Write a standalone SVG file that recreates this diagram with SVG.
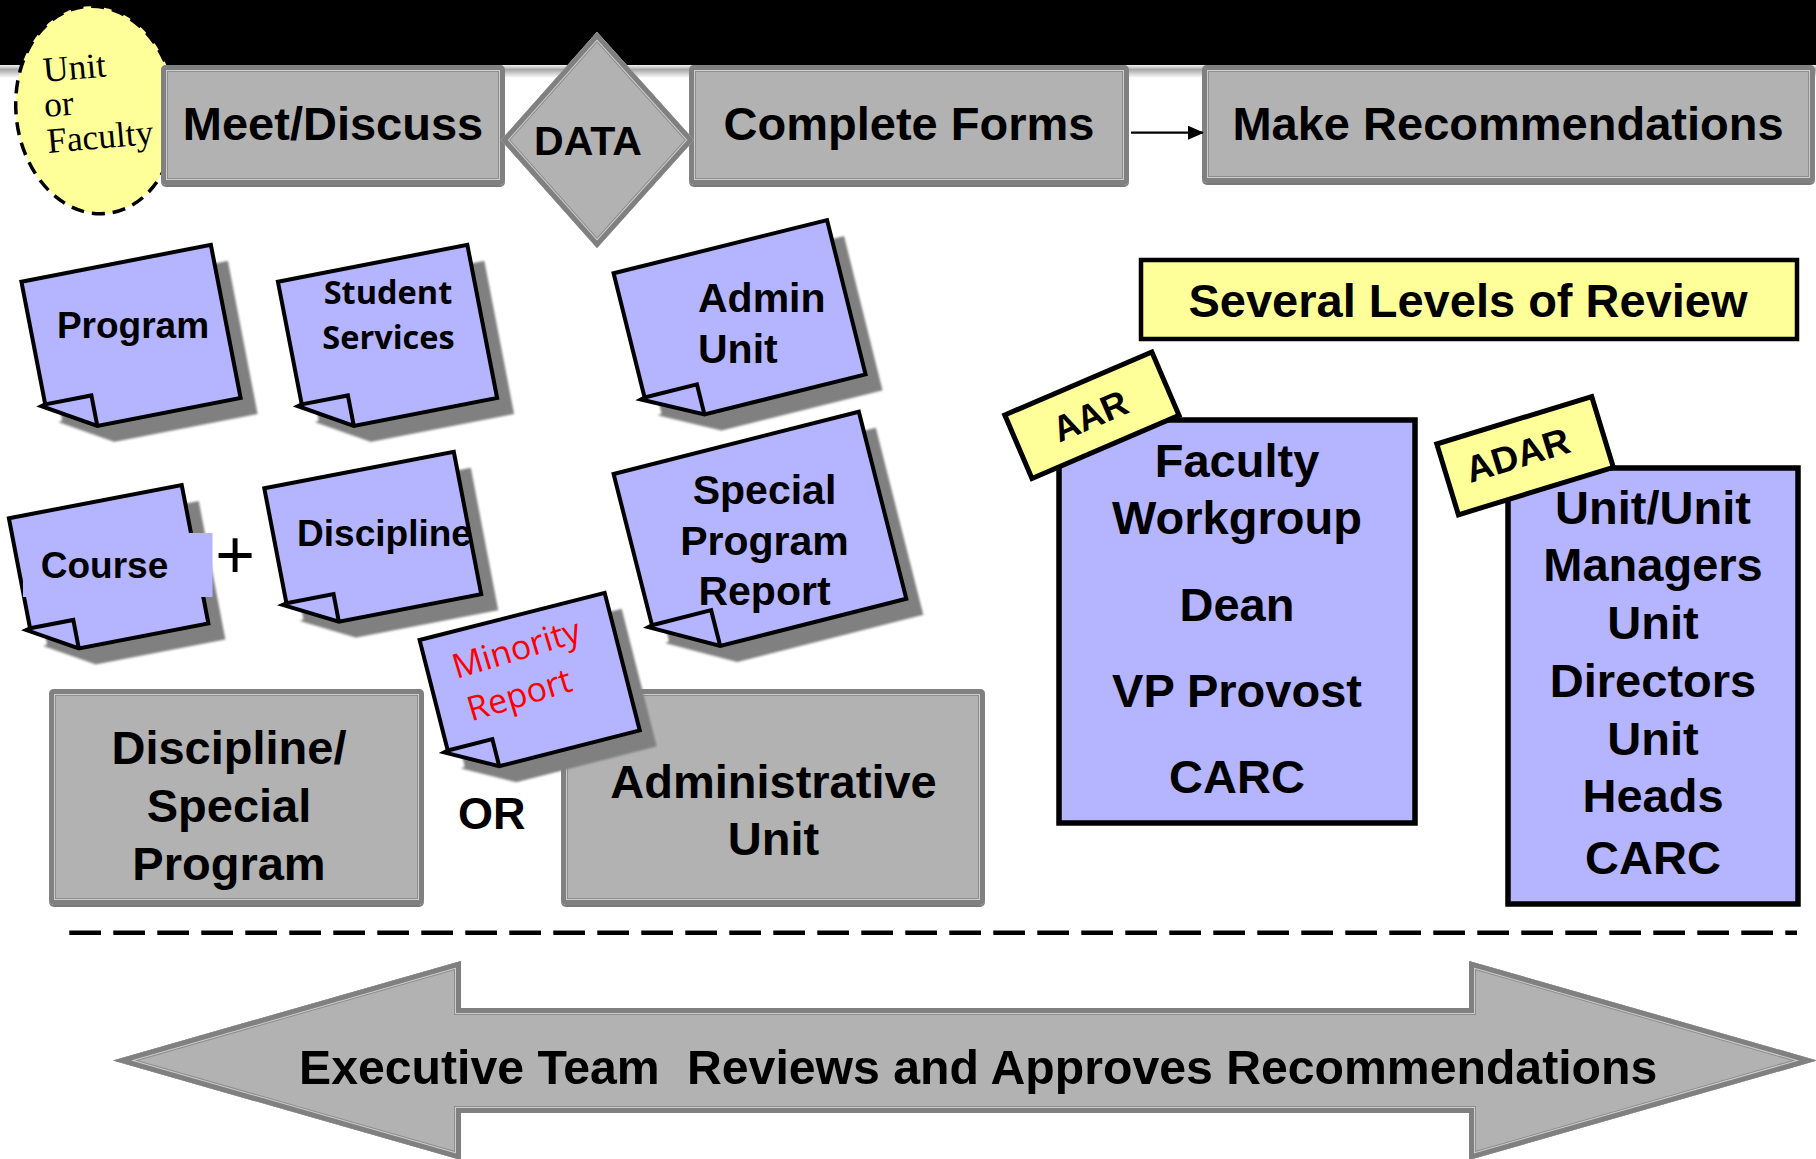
<svg xmlns="http://www.w3.org/2000/svg" xmlns:xlink="http://www.w3.org/1999/xlink" width="1816" height="1159" viewBox="0 0 1816 1159">
  <style>
    .t{font-family:"Liberation Sans",Arial,sans-serif;font-weight:bold;fill:#000}
    .c{text-anchor:middle}
    .s47{font-size:47px}
    .hand{font-family:"Open Sans","Noto Sans",sans-serif}
    .serif{font-family:"Liberation Serif","Times New Roman",serif;font-size:35.5px;fill:#000}
    .gfill{fill:#b2b2b2}
    .gdrop{fill:#7a7a7a}
    .b3{fill:none;stroke:#8e8e8e;stroke-width:14}
    .b2{fill:none;stroke:#cdcdcd;stroke-width:12}
    .b1{fill:none;stroke:#808080;stroke-width:10}
    .paper{fill:#b4b4ff;stroke:#000;stroke-width:4}
    .fold{fill:none;stroke:#000;stroke-width:4}
    .shadow{fill:#808080;filter:url(#soft)}
    .lav{fill:#b4b4ff}
    .panel{fill:#b4b4ff;stroke:#000;stroke-width:5.5}
    .tag{fill:#ffff99;stroke:#000;stroke-width:5}
  </style>
  <defs>
    <linearGradient id="rule" x1="0" y1="0" x2="0" y2="1">
      <stop offset="0" stop-color="#f2f2f2"/>
      <stop offset="0.35" stop-color="#a8a8a8"/>
      <stop offset="1" stop-color="#ffffff"/>
    </linearGradient>
    <filter id="soft" x="-10%" y="-10%" width="120%" height="120%">
      <feGaussianBlur stdDeviation="1.3"/>
    </filter>
    <marker id="arrowhead" markerUnits="userSpaceOnUse" markerWidth="16" markerHeight="14" viewBox="0 0 16 14" refX="15" refY="7" orient="auto">
      <path d="M0,0 L16,7 L0,14 Z" fill="#000"/>
    </marker>

    <!-- grey step shapes -->
    <rect id="box-meet" x="161" y="65" width="344" height="120" rx="5"/>
    <rect id="box-forms" x="689" y="65" width="440" height="120" rx="5"/>
    <rect id="box-recs" x="1202" y="65" width="613" height="118" rx="5"/>
    <polygon id="shape-data" points="501,140 597,32 694,140 597,248"/>
    <rect id="box-disc" x="49" y="689" width="375" height="216" rx="5"/>
    <rect id="box-admin" x="561" y="689" width="424" height="216" rx="5"/>
    <polygon id="shape-exec" points="113,1060.5 461,961 461,1008 1469,1008 1469,961 1817,1060.5 1469,1160 1469,1113 461,1113 461,1160"/>

    <clipPath id="clip-meet"><use xlink:href="#box-meet"/></clipPath>
    <clipPath id="clip-forms"><use xlink:href="#box-forms"/></clipPath>
    <clipPath id="clip-recs"><use xlink:href="#box-recs"/></clipPath>
    <clipPath id="clip-data"><use xlink:href="#shape-data"/></clipPath>
    <clipPath id="clip-disc"><use xlink:href="#box-disc"/></clipPath>
    <clipPath id="clip-admin"><use xlink:href="#box-admin"/></clipPath>
    <clipPath id="clip-exec"><use xlink:href="#shape-exec"/></clipPath>

    <!-- sticky note outlines, local coordinates, folded lower-left corner -->
    <path id="np-program" d="M0,0 H193 V156 H47 L-4,126 L0,125 Z"/>
    <path id="nf-program" d="M0,125 H47 V156"/>
    <path id="np-course" d="M0,0 H176 V141 H44 L-4,113 L0,112 Z"/>
    <path id="nf-course" d="M0,112 H44 V141"/>
    <path id="np-discipline" d="M0,0 H193 V145 H48 L-4,118 L0,117 Z"/>
    <path id="nf-discipline" d="M0,117 H48 V145"/>
    <path id="np-admin" d="M0,0 H220 V159 H54 L-4,129 L0,128 Z"/>
    <path id="nf-admin" d="M0,128 H54 V159"/>
    <path id="np-special" d="M0,0 H253 V193 H61 L-4,157 L0,156 Z"/>
    <path id="nf-special" d="M0,156 H61 V193"/>
    <path id="np-minority" d="M0,0 H191 V142 H46 L-4,115 L0,114 Z"/>
    <path id="nf-minority" d="M0,114 H46 V142"/>
  </defs>

  <rect x="0" y="0" width="1816" height="1159" fill="#fff"/>

  <!-- header band -->
  <g id="header">
    <rect x="0" y="0" width="1816" height="65" fill="#000"/>
    <rect x="0" y="65" width="1816" height="13" fill="url(#rule)"/>
  </g>

  <!-- who meets -->
  <g id="unit-or-faculty">
    <ellipse cx="96" cy="110" rx="80" ry="104" transform="rotate(-6 96 110)" fill="#ffff99" stroke="#000" stroke-width="3.5" stroke-dasharray="13 8"/>
    <text class="serif" x="44" y="82" transform="rotate(-5 44 82)">Unit</text>
    <text class="serif" x="45" y="117" transform="rotate(-5 45 117)">or</text>
    <text class="serif" x="48" y="153" transform="rotate(-5 48 153)">Faculty</text>
  </g>

  <!-- process steps -->
  <g id="meet-discuss">
    <use xlink:href="#box-meet" class="gdrop" transform="translate(0,2)"/>
    <use xlink:href="#box-meet" class="gfill"/>
    <g clip-path="url(#clip-meet)">
      <use xlink:href="#box-meet" class="b3"/><use xlink:href="#box-meet" class="b2"/><use xlink:href="#box-meet" class="b1"/>
    </g>
    <text class="t c s47" x="333" y="140">Meet/Discuss</text>
  </g>

  <g id="complete-forms">
    <use xlink:href="#box-forms" class="gdrop" transform="translate(0,2)"/>
    <use xlink:href="#box-forms" class="gfill"/>
    <g clip-path="url(#clip-forms)">
      <use xlink:href="#box-forms" class="b3"/><use xlink:href="#box-forms" class="b2"/><use xlink:href="#box-forms" class="b1"/>
    </g>
    <text class="t c s47" x="909" y="140">Complete Forms</text>
  </g>

  <g id="make-recommendations">
    <use xlink:href="#box-recs" class="gdrop" transform="translate(0,2)"/>
    <use xlink:href="#box-recs" class="gfill"/>
    <g clip-path="url(#clip-recs)">
      <use xlink:href="#box-recs" class="b3"/><use xlink:href="#box-recs" class="b2"/><use xlink:href="#box-recs" class="b1"/>
    </g>
    <text class="t c s47" x="1508" y="140">Make Recommendations</text>
  </g>

  <g id="data">
    <use xlink:href="#shape-data" class="gfill"/>
    <g clip-path="url(#clip-data)">
      <use xlink:href="#shape-data" class="b3"/><use xlink:href="#shape-data" class="b2"/><use xlink:href="#shape-data" class="b1"/>
    </g>
    <text class="t c" x="588" y="155" font-size="41">DATA</text>
  </g>

  <g id="connectors">
    <line x1="1131" y1="132.7" x2="1203" y2="132.7" stroke="#000" stroke-width="2.3" marker-end="url(#arrowhead)"/>
  </g>

  <!-- report notes -->
  <g id="note-program">
    <use xlink:href="#np-program" class="shadow" transform="translate(38.4,297.7) rotate(-11)"/>
    <g transform="translate(21.4,281.7) rotate(-11)">
      <use xlink:href="#np-program" class="paper"/><use xlink:href="#nf-program" class="fold"/>
    </g>
    <text class="t c" x="133" y="338" font-size="37">Program</text>
  </g>

  <g id="note-student-services">
    <use xlink:href="#np-program" class="shadow" transform="translate(294.9,297.7) rotate(-11)"/>
    <g transform="translate(277.9,281.7) rotate(-11)">
      <use xlink:href="#np-program" class="paper"/><use xlink:href="#nf-program" class="fold"/>
    </g>
    <text class="hand c" x="388" y="304" font-size="32.5" font-weight="bold">Student</text>
    <text class="hand c" x="388.5" y="349" font-size="32.5" font-weight="bold">Services</text>
  </g>

  <g id="note-course">
    <use xlink:href="#np-course" class="shadow" transform="translate(25.9,534.3) rotate(-10.9)"/>
    <g transform="translate(8.9,518.3) rotate(-10.9)">
      <use xlink:href="#np-course" class="paper"/><use xlink:href="#nf-course" class="fold"/>
    </g>
    <rect class="lav" x="23" y="533" width="189.5" height="64"/>
    <text class="t c" x="104.5" y="578" font-size="37">Course</text>
  </g>

  <g id="plus">
    <text x="235" y="578" font-family="Liberation Sans, Arial, sans-serif" font-size="68" text-anchor="middle" fill="#000">+</text>
  </g>

  <g id="note-discipline">
    <use xlink:href="#np-discipline" class="shadow" transform="translate(281.3,504.3) rotate(-10.9)"/>
    <g transform="translate(264.3,488.3) rotate(-10.9)">
      <use xlink:href="#np-discipline" class="paper"/><use xlink:href="#nf-discipline" class="fold"/>
    </g>
    <text class="t c" x="384.5" y="546" font-size="37">Discipline</text>
  </g>

  <g id="note-admin-unit">
    <use xlink:href="#np-admin" class="shadow" transform="translate(630.6,289.3) rotate(-14)"/>
    <g transform="translate(613.6,273.3) rotate(-14)">
      <use xlink:href="#np-admin" class="paper"/><use xlink:href="#nf-admin" class="fold"/>
    </g>
    <text class="t" x="698" y="312" font-size="41">Admin</text>
    <text class="t" x="698" y="362.5" font-size="41">Unit</text>
  </g>

  <g id="note-special-program-report">
    <use xlink:href="#np-special" class="shadow" transform="translate(630.6,490) rotate(-14.25)"/>
    <g transform="translate(613.6,474) rotate(-14.25)">
      <use xlink:href="#np-special" class="paper"/><use xlink:href="#nf-special" class="fold"/>
    </g>
    <text class="t c" x="764.5" y="503.5" font-size="41">Special</text>
    <text class="t c" x="764.5" y="554.5" font-size="41">Program</text>
    <text class="t c" x="764.5" y="605" font-size="41">Report</text>
  </g>

  <!-- review routes -->
  <g id="discipline-special-program">
    <use xlink:href="#box-disc" class="gdrop" transform="translate(0,2)"/>
    <use xlink:href="#box-disc" class="gfill"/>
    <g clip-path="url(#clip-disc)">
      <use xlink:href="#box-disc" class="b3"/><use xlink:href="#box-disc" class="b2"/><use xlink:href="#box-disc" class="b1"/>
    </g>
    <text class="t c s47" x="229" y="763.5">Discipline/</text>
    <text class="t c s47" x="229" y="821.5">Special</text>
    <text class="t c s47" x="229" y="880">Program</text>
  </g>

  <g id="or-label">
    <text class="t" x="458" y="829" font-size="45">OR</text>
  </g>

  <g id="administrative-unit">
    <use xlink:href="#box-admin" class="gdrop" transform="translate(0,2)"/>
    <use xlink:href="#box-admin" class="gfill"/>
    <g clip-path="url(#clip-admin)">
      <use xlink:href="#box-admin" class="b3"/><use xlink:href="#box-admin" class="b2"/><use xlink:href="#box-admin" class="b1"/>
    </g>
    <text class="t c s47" x="773.5" y="797.5">Administrative</text>
    <text class="t c s47" x="773.5" y="854.5">Unit</text>
  </g>

  <g id="note-minority-report">
    <use xlink:href="#np-minority" class="shadow" transform="translate(436.6,656) rotate(-14.3)"/>
    <g transform="translate(419.6,640) rotate(-14.3)">
      <use xlink:href="#np-minority" class="paper"/><use xlink:href="#nf-minority" class="fold"/>
      <g transform="rotate(-2.5 26 46)">
        <text class="hand" x="26" y="47" font-size="34" fill="#ff0000">Minority</text>
        <text class="hand" x="28" y="92" font-size="34" fill="#ff0000">Report</text>
      </g>
    </g>
  </g>

  <!-- levels of review -->
  <g id="several-levels">
    <rect x="1141" y="260" width="656" height="79" fill="#ffff99" stroke="#000" stroke-width="4.5"/>
    <text class="t c s47" x="1468" y="316.5">Several Levels of Review</text>
  </g>

  <g id="faculty-route">
    <rect class="panel" x="1059" y="420" width="356" height="403"/>
    <text class="t c s47" x="1237" y="477">Faculty</text>
    <text class="t c s47" x="1237" y="534">Workgroup</text>
    <text class="t c s47" x="1237" y="621">Dean</text>
    <text class="t c s47" x="1237" y="707">VP Provost</text>
    <text class="t c s47" x="1237" y="793">CARC</text>
  </g>

  <g id="tag-aar" transform="translate(1004.8,415) rotate(-23.2)">
    <rect class="tag" x="0" y="0" width="160" height="69"/>
    <text class="t c" x="78" y="47" font-size="36">AAR</text>
  </g>

  <g id="unit-route">
    <rect class="panel" x="1508" y="468" width="290" height="436"/>
    <text class="t c s47" x="1653" y="523.5">Unit/Unit</text>
    <text class="t c s47" x="1653" y="581">Managers</text>
    <text class="t c s47" x="1653" y="639">Unit</text>
    <text class="t c s47" x="1653" y="697">Directors</text>
    <text class="t c s47" x="1653" y="755">Unit</text>
    <text class="t c s47" x="1653" y="812">Heads</text>
    <text class="t c s47" x="1653" y="874">CARC</text>
  </g>

  <g id="tag-adar" transform="translate(1436.8,444) rotate(-17)">
    <rect class="tag" x="0" y="0" width="162" height="74"/>
    <text class="t c" x="74" y="47" font-size="37">ADAR</text>
  </g>

  <!-- divider -->
  <g id="divider">
    <line x1="69.3" y1="932.8" x2="1797" y2="932.8" stroke="#000" stroke-width="4.4" stroke-dasharray="31.7 12.3"/>
  </g>

  <!-- executive review -->
  <g id="executive-team">
    <use xlink:href="#shape-exec" class="gfill"/>
    <g clip-path="url(#clip-exec)">
      <use xlink:href="#shape-exec" class="b3"/><use xlink:href="#shape-exec" class="b2"/><use xlink:href="#shape-exec" class="b1"/>
    </g>
    <text class="t" y="1084" font-size="48.2"><tspan x="299">Executive Team</tspan><tspan x="687">Reviews and Approves Recommendations</tspan></text>
  </g>
</svg>
